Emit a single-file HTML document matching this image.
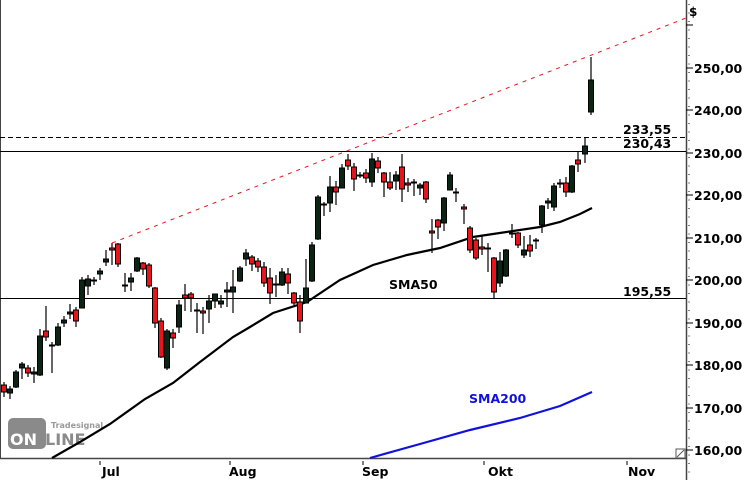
<!DOCTYPE html>
<html><head><meta charset="utf-8"><style>
html,body{margin:0;padding:0;background:#fff;}
svg{display:block;font-family:"DejaVu Sans","Liberation Sans",sans-serif;}
.r{fill:#e8141c;stroke:#000;stroke-width:1}
.g{fill:#0c2414;stroke:#000;stroke-width:1}
.w{stroke:#000;stroke-width:1.2}
.t{font-size:12.5px;font-weight:bold;fill:#000}
</style></head><body>
<svg width="750" height="480" viewBox="0 0 750 480">
<rect x="0" y="0" width="750" height="480" fill="#fff"/>
<!-- logo -->
<rect x="8" y="418" width="38" height="31" rx="5" fill="#8a8a8a"/>
<text x="10" y="445" font-size="16" font-weight="bold" fill="#fff">ON</text>
<text x="45" y="445" font-size="16" font-weight="bold" fill="#8a8a8a">LINE</text>
<text x="51" y="428" font-size="8" font-weight="bold" fill="#9a9a9a">Tradesignal</text>
<!-- frame -->
<line x1="0.5" y1="0" x2="0.5" y2="458" stroke="#444"/>
<line x1="0" y1="458.5" x2="686" y2="458.5" stroke="#444" stroke-width="1.5"/>
<line x1="686.5" y1="0" x2="686.5" y2="480" stroke="#444" stroke-width="1.5"/>
<!-- y ticks -->
<g stroke="#000">
<line x1="686" y1="68" x2="693" y2="68"/><line x1="686" y1="110" x2="693" y2="110"/><line x1="686" y1="153" x2="693" y2="153"/><line x1="686" y1="195" x2="693" y2="195"/><line x1="686" y1="238" x2="693" y2="238"/><line x1="686" y1="280" x2="693" y2="280"/><line x1="686" y1="323" x2="693" y2="323"/><line x1="686" y1="365" x2="693" y2="365"/><line x1="686" y1="408" x2="693" y2="408"/><line x1="686" y1="450" x2="693" y2="450"/><line x1="686" y1="25" x2="693" y2="25"/>
</g>
<line x1="689" y1="0" x2="689" y2="480" stroke="#000" stroke-width="1" stroke-dasharray="1,7.5" stroke-dashoffset="-4"/>
<g class="t">
<text x="689" y="16" font-size="12">$</text>
<text x="694" y="73">250,00</text><text x="694" y="115">240,00</text><text x="694" y="158">230,00</text><text x="694" y="200">220,00</text><text x="694" y="243">210,00</text><text x="694" y="285">200,00</text><text x="694" y="328">190,00</text><text x="694" y="370">180,00</text><text x="694" y="413">170,00</text><text x="694" y="455">160,00</text>
</g>
<!-- x axis -->
<g stroke="#000"><line x1="100" y1="461" x2="100" y2="465"/><line x1="230" y1="461" x2="230" y2="465"/><line x1="363" y1="461" x2="363" y2="465"/><line x1="484" y1="461" x2="484" y2="465"/><line x1="627" y1="461" x2="627" y2="465"/></g>
<g class="t"><text x="102" y="476">Jul</text><text x="229" y="476">Aug</text><text x="362" y="476">Sep</text><text x="488" y="476">Okt</text><text x="628" y="476">Nov</text></g>
<!-- corner icon -->
<rect x="676" y="449" width="9" height="9" fill="#fff" stroke="#555"/><line x1="677" y1="457" x2="684" y2="450" stroke="#555"/>
<!-- horizontal lines -->
<line x1="0" y1="137.5" x2="686" y2="137.5" stroke="#000" stroke-dasharray="5,3"/>
<line x1="0" y1="151.5" x2="686" y2="151.5" stroke="#000"/>
<line x1="0" y1="298.5" x2="686" y2="298.5" stroke="#000"/>
<g class="t"><text x="623" y="134">233,55</text><text x="623" y="148">230,43</text><text x="623" y="296">195,55</text></g>
<!-- resistance -->
<line x1="112" y1="243" x2="686" y2="18" stroke="#e8141c" stroke-dasharray="4,5"/>
<!-- SMA lines -->
<polyline fill="none" stroke="#000" stroke-width="2.2" points="52,458 80,442 110,424 145,399 173,383 200,362 233,337 250,327 273,313 307,302 340,280 373,265 407,255 440,248 473,237 493,234 540,227 560,222 580,214 592,208"/>
<polyline fill="none" stroke="#1010e0" stroke-width="2.2" points="370,458 420,444 470,430 520,418 560,406 592,392"/>
<text x="389" y="289" class="t">SMA50</text>
<text x="469" y="403" class="t" style="fill:#1010e0">SMA200</text>
<!-- candles -->
<g>
<line class="w" x1="4" y1="382" x2="4" y2="397"/><rect class="r" x="1.5" y="385" width="5" height="7"/>
<line class="w" x1="10" y1="386" x2="10" y2="399"/><rect class="g" x="7.5" y="389" width="5" height="4"/>
<line class="w" x1="16" y1="370" x2="16" y2="388"/><rect class="g" x="13.5" y="372" width="5" height="15"/>
<line class="w" x1="22" y1="362" x2="22" y2="379"/><rect class="g" x="19.5" y="364" width="5" height="4"/>
<line class="w" x1="28" y1="365" x2="28" y2="377"/><rect class="r" x="25.5" y="368" width="5" height="5"/>
<line class="w" x1="34" y1="367" x2="34" y2="383"/><rect class="g" x="31.5" y="372" width="5" height="2"/>
<line class="w" x1="40" y1="329" x2="40" y2="376"/><rect class="g" x="37.5" y="336" width="5" height="39"/>
<line class="w" x1="46" y1="306" x2="46" y2="341"/><rect class="r" x="43.5" y="331" width="5" height="6"/>
<line class="w" x1="52" y1="342" x2="52" y2="373"/><rect class="g" x="49.5" y="345" width="5" height="1"/>
<line class="w" x1="58" y1="323" x2="58" y2="346"/><rect class="g" x="55.5" y="327" width="5" height="18"/>
<line class="w" x1="64" y1="316" x2="64" y2="327"/><rect class="g" x="61.5" y="320" width="5" height="3"/>
<line class="w" x1="70" y1="304" x2="70" y2="319"/><rect class="g" x="67.5" y="312" width="5" height="2"/>
<line class="w" x1="76" y1="307" x2="76" y2="327"/><rect class="r" x="73.5" y="310" width="5" height="11"/>
<line class="w" x1="82" y1="277" x2="82" y2="308"/><rect class="g" x="79.5" y="280" width="5" height="28"/>
<line class="w" x1="88" y1="275" x2="88" y2="295"/><rect class="g" x="85.5" y="279" width="5" height="7"/>
<line class="w" x1="94" y1="277" x2="94" y2="285"/><rect class="g" x="91.5" y="280" width="5" height="1"/>
<line class="w" x1="100" y1="268" x2="100" y2="280"/><rect class="g" x="97.5" y="271" width="5" height="3"/>
<line class="w" x1="106" y1="250" x2="106" y2="266"/><rect class="g" x="103.5" y="259" width="5" height="3"/>
<line class="w" x1="112" y1="243" x2="112" y2="265"/><rect class="r" x="109.5" y="248" width="5" height="2"/>
<line class="w" x1="118" y1="243" x2="118" y2="267"/><rect class="r" x="115.5" y="244" width="5" height="20"/>
<line class="w" x1="125" y1="273" x2="125" y2="292"/><rect class="g" x="122.5" y="285" width="5" height="1"/>
<line class="w" x1="131" y1="273" x2="131" y2="291"/><rect class="g" x="128.5" y="278" width="5" height="4"/>
<line class="w" x1="137" y1="257" x2="137" y2="272"/><rect class="g" x="134.5" y="258" width="5" height="13"/>
<line class="w" x1="143" y1="262" x2="143" y2="275"/><rect class="r" x="140.5" y="263" width="5" height="6"/>
<line class="w" x1="149" y1="263" x2="149" y2="288"/><rect class="r" x="146.5" y="265" width="5" height="21"/>
<line class="w" x1="155" y1="287" x2="155" y2="328"/><rect class="r" x="152.5" y="288" width="5" height="35"/>
<line class="w" x1="161" y1="318" x2="161" y2="358"/><rect class="r" x="158.5" y="321" width="5" height="36"/>
<line class="w" x1="167" y1="329" x2="167" y2="370"/><rect class="g" x="164.5" y="331" width="5" height="37"/>
<line class="w" x1="173" y1="329" x2="173" y2="348"/><rect class="r" x="170.5" y="333" width="5" height="5"/>
<line class="w" x1="179" y1="300" x2="179" y2="333"/><rect class="g" x="176.5" y="305" width="5" height="22"/>
<line class="w" x1="185" y1="284" x2="185" y2="311"/><rect class="r" x="182.5" y="295" width="5" height="3"/>
<line class="w" x1="191" y1="292" x2="191" y2="312"/><rect class="r" x="188.5" y="294" width="5" height="4"/>
<line class="w" x1="197" y1="303" x2="197" y2="333"/><rect class="g" x="194.5" y="310" width="5" height="1"/>
<line class="w" x1="203" y1="307" x2="203" y2="334"/><rect class="r" x="200.5" y="311" width="5" height="2"/>
<line class="w" x1="209" y1="295" x2="209" y2="323"/><rect class="g" x="206.5" y="301" width="5" height="8"/>
<line class="w" x1="215" y1="294" x2="215" y2="308"/><rect class="g" x="212.5" y="294" width="5" height="7"/>
<line class="w" x1="221" y1="295" x2="221" y2="308"/><rect class="g" x="218.5" y="301" width="5" height="3"/>
<line class="w" x1="227" y1="282" x2="227" y2="307"/><rect class="g" x="224.5" y="290" width="5" height="2"/>
<line class="w" x1="233" y1="270" x2="233" y2="313"/><rect class="g" x="230.5" y="287" width="5" height="5"/>
<line class="w" x1="240" y1="266" x2="240" y2="282"/><rect class="g" x="237.5" y="268" width="5" height="13"/>
<line class="w" x1="246" y1="249" x2="246" y2="266"/><rect class="g" x="243.5" y="253" width="5" height="6"/>
<line class="w" x1="252" y1="255" x2="252" y2="271"/><rect class="r" x="249.5" y="257" width="5" height="7"/>
<line class="w" x1="258" y1="258" x2="258" y2="272"/><rect class="r" x="255.5" y="261" width="5" height="6"/>
<line class="w" x1="264" y1="262" x2="264" y2="287"/><rect class="r" x="261.5" y="267" width="5" height="16"/>
<line class="w" x1="270" y1="268" x2="270" y2="304"/><rect class="r" x="267.5" y="278" width="5" height="15"/>
<line class="w" x1="276" y1="275" x2="276" y2="297"/><rect class="g" x="273.5" y="284" width="5" height="1"/>
<line class="w" x1="282" y1="268" x2="282" y2="286"/><rect class="g" x="279.5" y="272" width="5" height="13"/>
<line class="w" x1="288" y1="268" x2="288" y2="294"/><rect class="r" x="285.5" y="274" width="5" height="9"/>
<line class="w" x1="294" y1="292" x2="294" y2="305"/><rect class="r" x="291.5" y="293" width="5" height="10"/>
<line class="w" x1="300" y1="295" x2="300" y2="333"/><rect class="r" x="297.5" y="302" width="5" height="19"/>
<line class="w" x1="306" y1="259" x2="306" y2="303"/><rect class="g" x="303.5" y="288" width="5" height="15"/>
<line class="w" x1="312" y1="242" x2="312" y2="282"/><rect class="g" x="309.5" y="245" width="5" height="36"/>
<line class="w" x1="318" y1="195" x2="318" y2="240"/><rect class="g" x="315.5" y="197" width="5" height="42"/>
<line class="w" x1="324" y1="202" x2="324" y2="216"/><rect class="g" x="321.5" y="204" width="5" height="1"/>
<line class="w" x1="330" y1="176" x2="330" y2="212"/><rect class="g" x="327.5" y="187" width="5" height="16"/>
<line class="w" x1="336" y1="181" x2="336" y2="205"/><rect class="r" x="333.5" y="187" width="5" height="5"/>
<line class="w" x1="342" y1="164" x2="342" y2="188"/><rect class="g" x="339.5" y="168" width="5" height="20"/>
<line class="w" x1="348" y1="154" x2="348" y2="170"/><rect class="r" x="345.5" y="160" width="5" height="6"/>
<line class="w" x1="354" y1="163" x2="354" y2="191"/><rect class="r" x="351.5" y="167" width="5" height="12"/>
<line class="w" x1="360" y1="172" x2="360" y2="178"/><rect class="g" x="357.5" y="175" width="5" height="1"/>
<line class="w" x1="366" y1="169" x2="366" y2="183"/><rect class="r" x="363.5" y="173" width="5" height="5"/>
<line class="w" x1="372" y1="153" x2="372" y2="187"/><rect class="g" x="369.5" y="159" width="5" height="23"/>
<line class="w" x1="378" y1="157" x2="378" y2="173"/><rect class="r" x="375.5" y="161" width="5" height="7"/>
<line class="w" x1="384" y1="172" x2="384" y2="197"/><rect class="r" x="381.5" y="173" width="5" height="9"/>
<line class="w" x1="390" y1="172" x2="390" y2="190"/><rect class="r" x="387.5" y="182" width="5" height="6"/>
<line class="w" x1="396" y1="171" x2="396" y2="190"/><rect class="g" x="393.5" y="175" width="5" height="6"/>
<line class="w" x1="402" y1="154" x2="402" y2="202"/><rect class="r" x="399.5" y="167" width="5" height="22"/>
<line class="w" x1="408" y1="178" x2="408" y2="192"/><rect class="r" x="405.5" y="183" width="5" height="2"/>
<line class="w" x1="414" y1="179" x2="414" y2="196"/><rect class="g" x="411.5" y="182" width="5" height="1"/>
<line class="w" x1="420" y1="183" x2="420" y2="195"/><rect class="g" x="417.5" y="185" width="5" height="3"/>
<line class="w" x1="426" y1="181" x2="426" y2="203"/><rect class="r" x="423.5" y="182" width="5" height="17"/>
<line class="w" x1="432" y1="219" x2="432" y2="253"/><rect class="r" x="429.5" y="231" width="5" height="2"/>
<line class="w" x1="438" y1="219" x2="438" y2="239"/><rect class="r" x="435.5" y="220" width="5" height="7"/>
<line class="w" x1="444" y1="197" x2="444" y2="231"/><rect class="g" x="441.5" y="198" width="5" height="25"/>
<line class="w" x1="450" y1="172" x2="450" y2="190"/><rect class="g" x="447.5" y="175" width="5" height="15"/>
<line class="w" x1="456" y1="188" x2="456" y2="202"/><rect class="g" x="453.5" y="192" width="5" height="1"/>
<line class="w" x1="464" y1="204" x2="464" y2="224"/><rect class="r" x="461.5" y="207" width="5" height="2"/>
<line class="w" x1="470" y1="226" x2="470" y2="253"/><rect class="r" x="467.5" y="228" width="5" height="22"/>
<line class="w" x1="476" y1="238" x2="476" y2="260"/><rect class="r" x="473.5" y="240" width="5" height="18"/>
<line class="w" x1="482" y1="236" x2="482" y2="255"/><rect class="r" x="479.5" y="247" width="5" height="2"/>
<line class="w" x1="488" y1="243" x2="488" y2="272"/><rect class="g" x="485.5" y="248" width="5" height="1"/>
<line class="w" x1="494" y1="257" x2="494" y2="299"/><rect class="r" x="491.5" y="258" width="5" height="34"/>
<line class="w" x1="500" y1="252" x2="500" y2="287"/><rect class="g" x="497.5" y="261" width="5" height="22"/>
<line class="w" x1="506" y1="249" x2="506" y2="277"/><rect class="g" x="503.5" y="250" width="5" height="26"/>
<line class="w" x1="512" y1="224" x2="512" y2="238"/><rect class="g" x="509.5" y="233" width="5" height="1"/>
<line class="w" x1="518" y1="232" x2="518" y2="248"/><rect class="r" x="515.5" y="233" width="5" height="12"/>
<line class="w" x1="524" y1="236" x2="524" y2="258"/><rect class="g" x="521.5" y="250" width="5" height="5"/>
<line class="w" x1="530" y1="235" x2="530" y2="257"/><rect class="r" x="527.5" y="245" width="5" height="6"/>
<line class="w" x1="536" y1="238" x2="536" y2="249"/><rect class="g" x="533.5" y="240" width="5" height="1"/>
<line class="w" x1="542" y1="205" x2="542" y2="233"/><rect class="g" x="539.5" y="206" width="5" height="19"/>
<line class="w" x1="548" y1="198" x2="548" y2="209"/><rect class="g" x="545.5" y="201" width="5" height="2"/>
<line class="w" x1="554" y1="183" x2="554" y2="211"/><rect class="g" x="551.5" y="186" width="5" height="21"/>
<line class="w" x1="560" y1="179" x2="560" y2="188"/><rect class="g" x="557.5" y="183" width="5" height="1"/>
<line class="w" x1="566" y1="177" x2="566" y2="197"/><rect class="r" x="563.5" y="183" width="5" height="9"/>
<line class="w" x1="572" y1="165" x2="572" y2="193"/><rect class="g" x="569.5" y="166" width="5" height="26"/>
<line class="w" x1="578" y1="151" x2="578" y2="172"/><rect class="r" x="575.5" y="160" width="5" height="4"/>
<line class="w" x1="585" y1="138" x2="585" y2="163"/><rect class="g" x="582.5" y="146" width="5" height="8"/>
<line class="w" x1="591" y1="57" x2="591" y2="115"/><rect class="g" x="588.5" y="80" width="5" height="32"/>
</g>
</svg>
</body></html>
